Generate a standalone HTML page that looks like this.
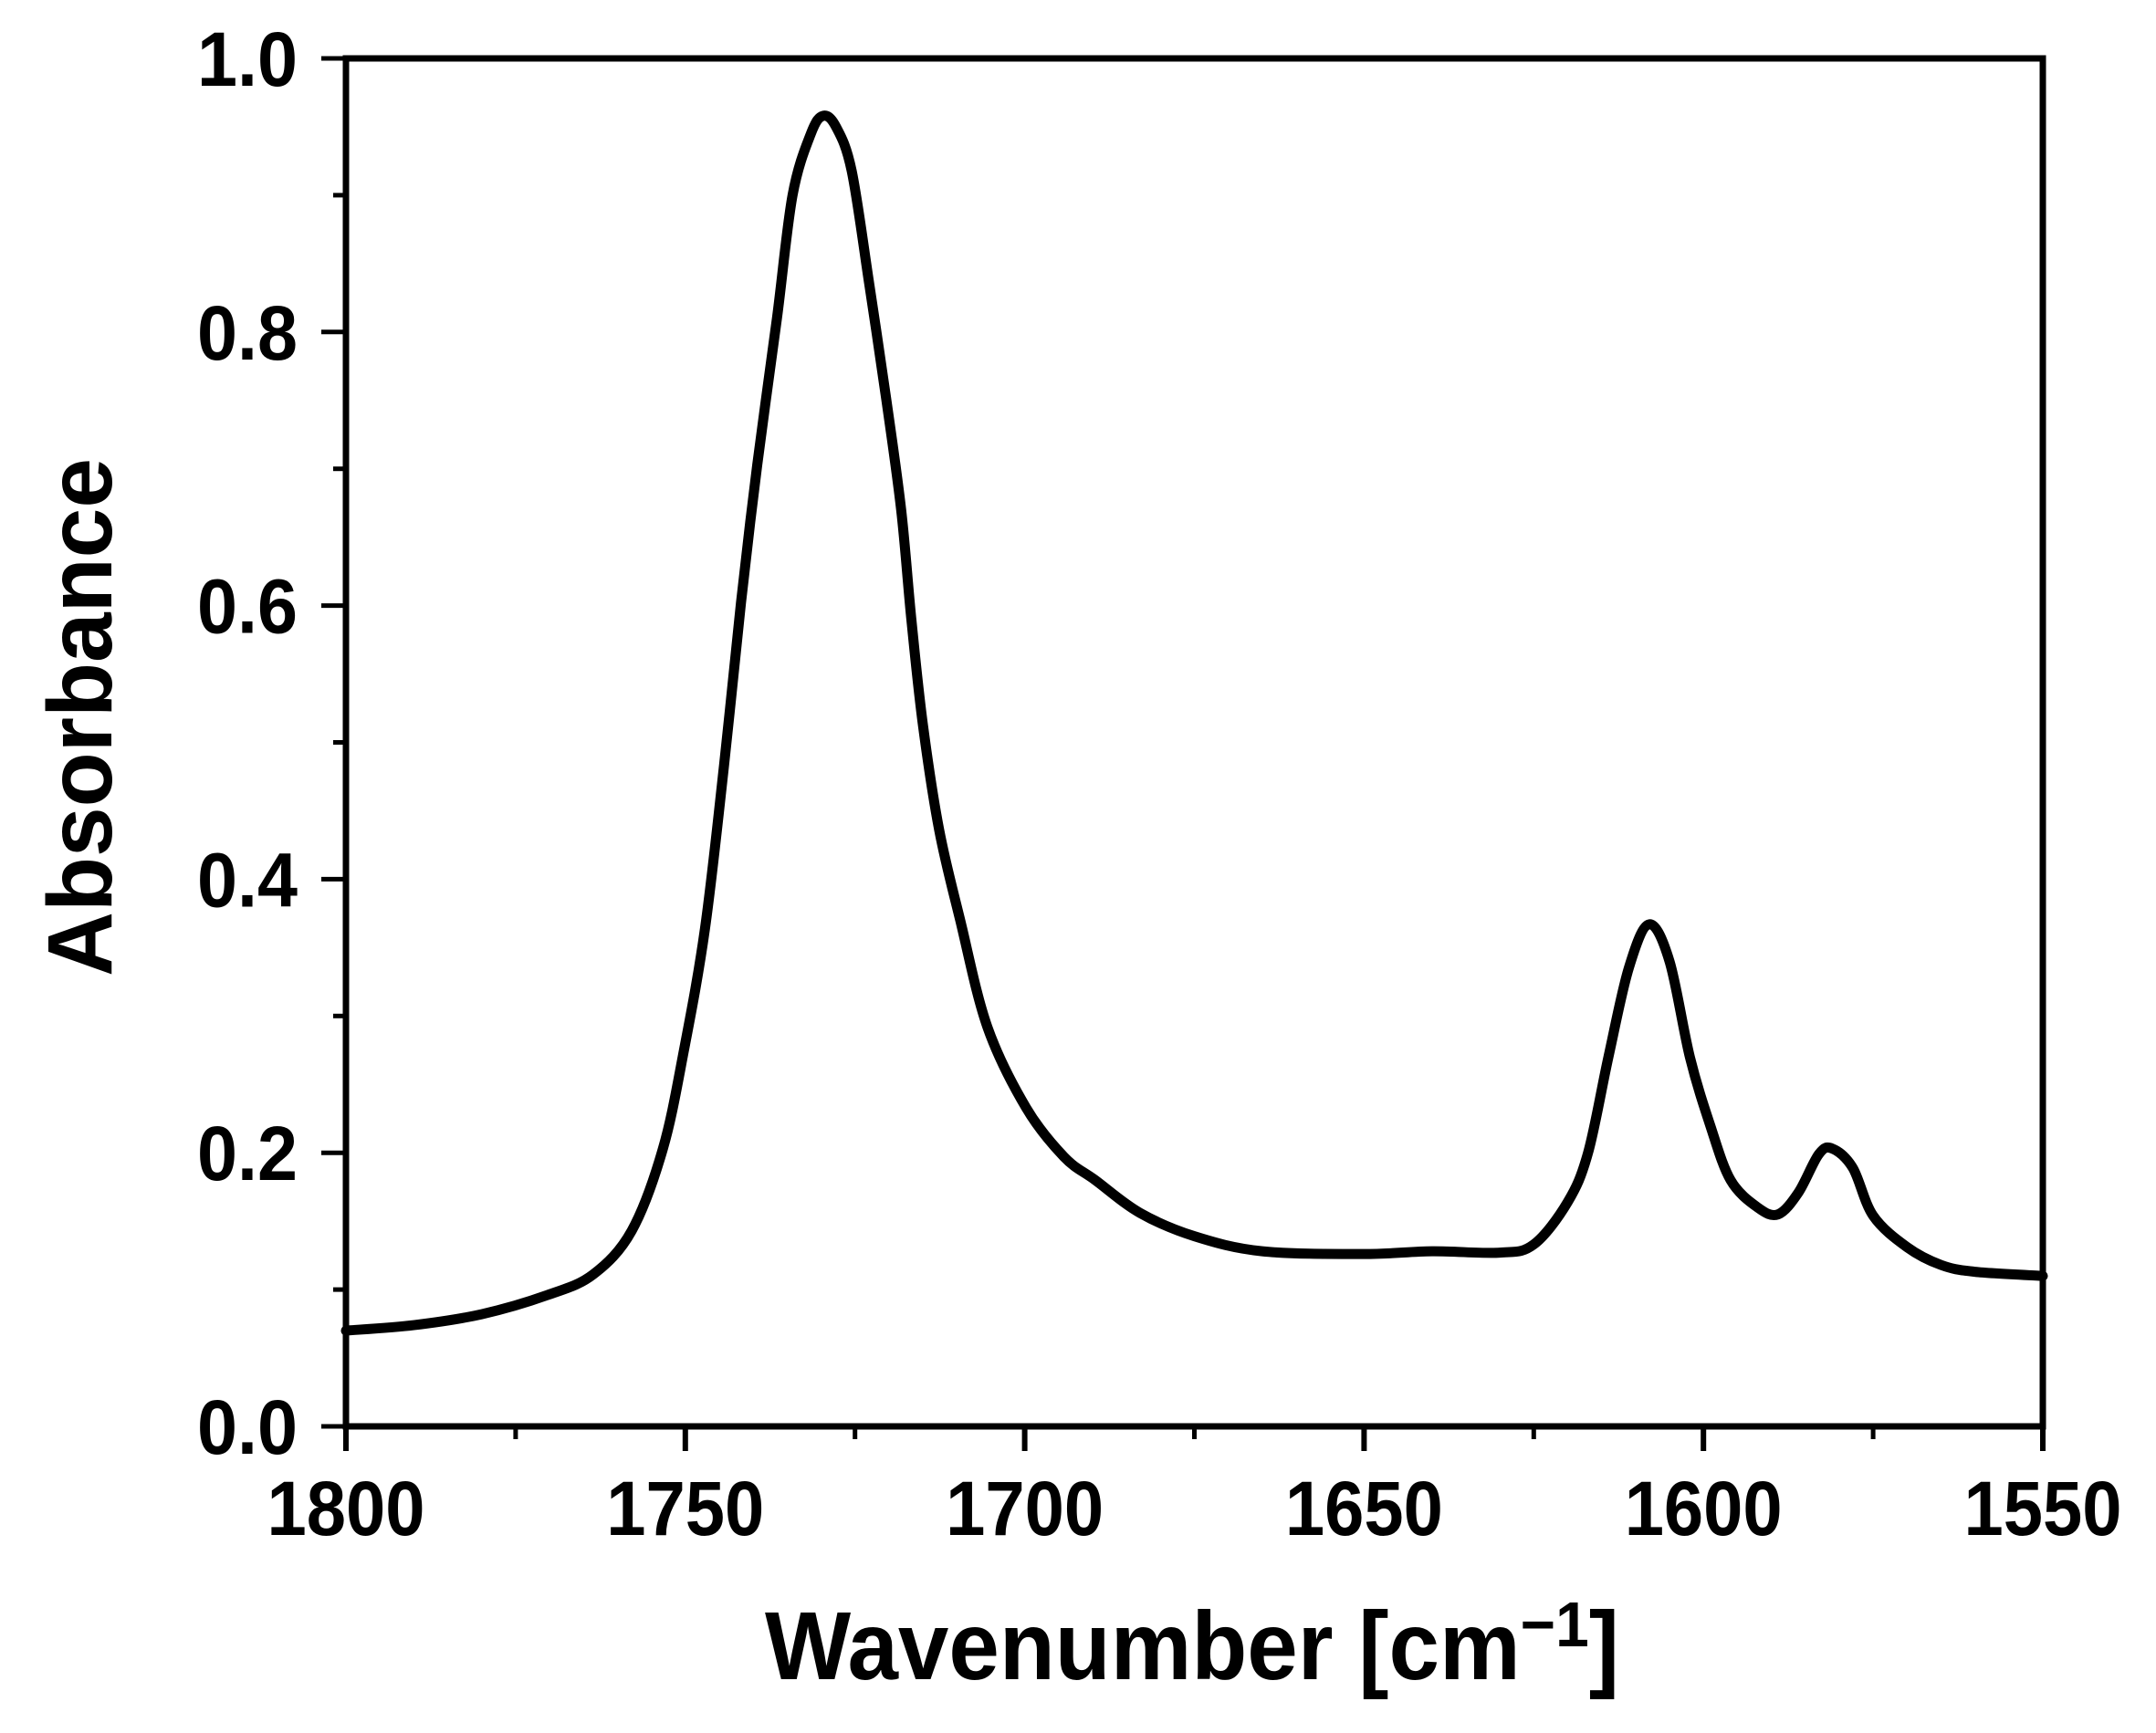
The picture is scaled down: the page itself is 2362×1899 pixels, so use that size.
<!DOCTYPE html>
<html><head><meta charset="utf-8"><style>
html,body{margin:0;padding:0;background:#fff}
svg{display:block;font-family:"Liberation Sans",Arial,sans-serif;font-weight:bold}
</style></head><body>
<svg id="chart" width="2362" height="1899" viewBox="0 0 2362 1899" xmlns="http://www.w3.org/2000/svg">
<rect width="2362" height="1899" fill="#fff"/>
<g id="axes"></g>
<path id="curve" fill="none" stroke="#000" stroke-width="11" stroke-linejoin="round" stroke-linecap="round"/>
<text x="1306" y="1840" font-size="106" text-anchor="middle" textLength="936" lengthAdjust="spacingAndGlyphs">Wavenumber [cm<tspan font-size="70" dy="-36">−1</tspan><tspan dy="36">]</tspan></text>
<text transform="translate(122,786) rotate(-90)" x="0" y="0" font-size="100" text-anchor="middle" textLength="568" lengthAdjust="spacingAndGlyphs">Absorbance</text>
</svg>
<script>
const wavenumbers=[1800,1790,1780,1770.3,1763.6,1757.9,1753.3,1750.2,1747.1,1744.3,1741.8,1739.4,1736.5,1734.2,1731.5,1729.7,1727.8,1725.5,1722.9,1720.4,1718.2,1716.7,1715.0,1712.6,1709.5,1705.5,1699.8,1694.2,1689.6,1683,1675,1665,1650,1640,1630,1625,1620,1617,1614,1611,1608,1605,1602,1599,1596,1592,1589,1586,1583,1581,1578,1575,1570,1565,1560,1550];
const absorbance=[0.070,0.074,0.082,0.096,0.111,0.143,0.203,0.275,0.364,0.483,0.602,0.703,0.81,0.90,0.945,0.958,0.950,0.918,0.835,0.751,0.670,0.590,0.513,0.436,0.37,0.292,0.233,0.197,0.180,0.156,0.139,0.128,0.126,0.128,0.127,0.133,0.164,0.20,0.27,0.335,0.367,0.34,0.27,0.22,0.18,0.16,0.155,0.171,0.199,0.203,0.189,0.154,0.131,0.118,0.113,0.110];
const xTicks=[1800,1750,1700,1650,1600,1550];
const xMinor=[1775,1725,1675,1625,1575];
const yTicks=[0.0,0.2,0.4,0.6,0.8,1.0];
const yMinor=[0.1,0.3,0.5,0.7,0.9];
const L=379,R=2238,T=64,B=1563;
function sx(v){return L+(1800-v)/(1800-1550)*(R-L);}
function sy(v){return B-v*(B-T);}
const NS='http://www.w3.org/2000/svg';
const ax=document.getElementById('axes');
function mk(tag,attrs,parent){const e=document.createElementNS(NS,tag);for(const k in attrs)e.setAttribute(k,attrs[k]);(parent||ax).appendChild(e);return e;}
const frame=mk('rect',{x:L,y:T,width:R-L,height:B-T,fill:'none',stroke:'#000','stroke-width':7});


xTicks.forEach(v=>{
  const t=mk('line',{x1:sx(v),x2:sx(v),y1:B,y2:B+27,stroke:'#000','stroke-width':6});
  
  
  const l=mk('text',{x:sx(v),y:1682,'font-size':84,'text-anchor':'middle',textLength:173,lengthAdjust:'spacingAndGlyphs'});
  l.textContent=String(v);
  
  
});
xMinor.forEach(v=>{
  const t=mk('line',{x1:sx(v),x2:sx(v),y1:B,y2:B+14,stroke:'#000','stroke-width':5});
  
  
});
yTicks.forEach(v=>{
  const t=mk('line',{x1:L-27,x2:L,y1:sy(v),y2:sy(v),stroke:'#000','stroke-width':5});
  
  
  const l=mk('text',{x:326,y:sy(v)+30,'font-size':84,'text-anchor':'end',textLength:110,lengthAdjust:'spacingAndGlyphs'});
  l.textContent=v.toFixed(1);
  
  
});
yMinor.forEach(v=>{
  const t=mk('line',{x1:L-14,x2:L,y1:sy(v),y2:sy(v),stroke:'#000','stroke-width':5});
  
  
});
const pts=wavenumbers.map((w,i)=>[sx(w),sy(absorbance[i])]);
let d='M'+pts[0][0]+','+pts[0][1];
for(let i=0;i<pts.length-1;i++){
  const p0=pts[Math.max(0,i-1)],p1=pts[i],p2=pts[i+1],p3=pts[Math.min(pts.length-1,i+2)];
  const c1=[p1[0]+(p2[0]-p0[0])/6,p1[1]+(p2[1]-p0[1])/6];
  const c2=[p2[0]-(p3[0]-p1[0])/6,p2[1]-(p3[1]-p1[1])/6];
  d+=' C'+c1[0]+','+c1[1]+' '+c2[0]+','+c2[1]+' '+p2[0]+','+p2[1];
}
document.getElementById('curve').setAttribute('d',d);
</script>
</body></html>
